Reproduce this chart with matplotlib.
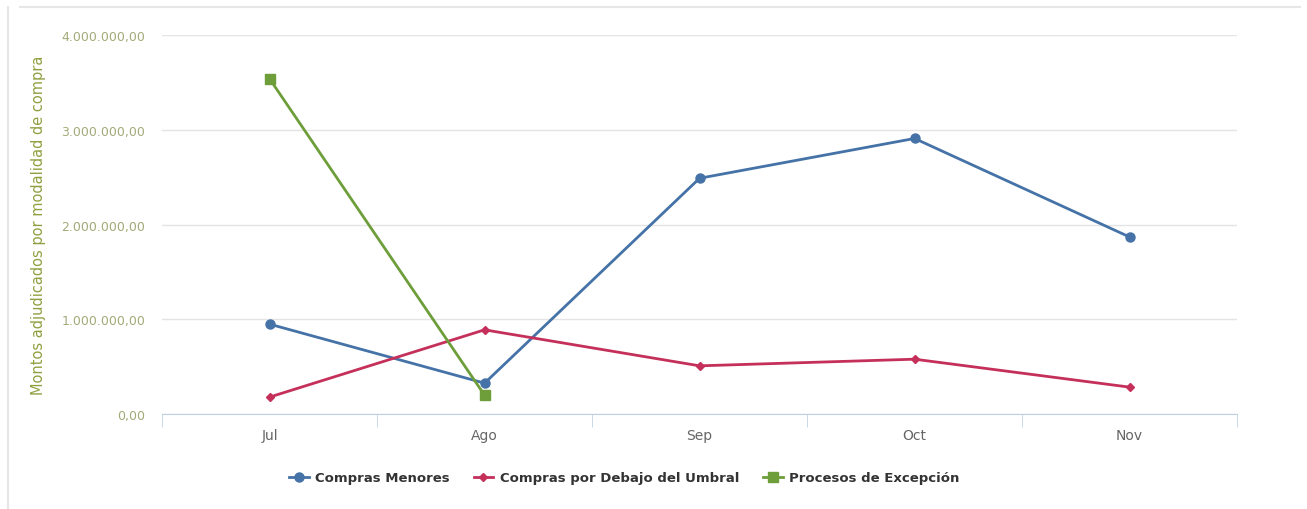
import numpy as np
import matplotlib.pyplot as plt
from matplotlib.lines import Line2D
from matplotlib.ticker import FuncFormatter

# monthly amounts by purchase modality
meses = ['Jul', 'Ago', 'Sep', 'Oct', 'Nov']
compras_menores = [950000, 327000, 2490000, 2910000, 1870000]
compras_umbral = [180000, 890000, 510000, 580000, 285000]
procesos_excepcion = [3540000, 200000, np.nan, np.nan, np.nan]

azul = '#4572A7'
rojo = '#C5305B'
verde = '#6E9E3A'


def miles(v, pos):
    s = '{:,.2f}'.format(v)
    return s.replace(',', 'X').replace('.', ',').replace('X', '.')


fig = plt.figure(figsize=(13.07, 5.10), dpi=100)
fig.patch.set_facecolor('white')

# panel border around the chart
fig.add_artist(Line2D([0.015, 0.995], [0.985, 0.985], color='#e6e6e6', lw=1.5))
fig.add_artist(Line2D([0.006, 0.006], [0.0, 0.985], color='#e6e6e6', lw=1.5))

ax = fig.add_axes([0.124, 0.186, 0.8225, 0.743])
x = np.arange(len(meses))

ax.plot(x, compras_menores, color=azul, lw=2, marker='o', ms=6.5,
        label='Compras Menores', zorder=3)
ax.plot(x, compras_umbral, color=rojo, lw=2, marker='D', ms=4.5,
        label='Compras por Debajo del Umbral', zorder=3)
ax.plot(x, procesos_excepcion, color=verde, lw=2, marker='s', ms=6.5,
        label='Procesos de Excepción', zorder=4)

ax.set_xlim(-0.5, len(meses) - 0.5)
ax.set_ylim(0, 4000000)
ax.set_yticks([0, 1000000, 2000000, 3000000, 4000000])
ax.yaxis.set_major_formatter(FuncFormatter(miles))
ax.set_xticks(x)
ax.set_xticklabels(meses)
ax.set_xticks(np.arange(-0.5, len(meses)), minor=True)

ax.grid(axis='y', color='#e4e4e4', lw=1)
ax.set_axisbelow(True)
for s in ['top', 'right', 'left']:
    ax.spines[s].set_visible(False)
ax.spines['bottom'].set_color('#c0d0e0')

ax.tick_params(axis='y', length=0, pad=12, labelsize=9, labelcolor='#a3aa78')
ax.tick_params(axis='x', which='major', length=0, pad=10, labelsize=10,
               labelcolor='#666666')
ax.tick_params(axis='x', which='minor', length=9, color='#c0d0e0')

ax.set_ylabel('Montos adjudicados por modalidad de compra', color='#8fa040',
              fontsize=10.5)
ax.yaxis.set_label_coords(-0.108, 0.5)

leg = ax.legend(loc='upper center', bbox_to_anchor=(0.43, -0.12), ncol=3,
                frameon=False, fontsize=9.5, handlelength=1.5,
                columnspacing=1.8, handletextpad=0.5)
for t in leg.get_texts():
    t.set_color('#333333')
    t.set_fontweight('bold')

fig.savefig('out.png', dpi=100)
